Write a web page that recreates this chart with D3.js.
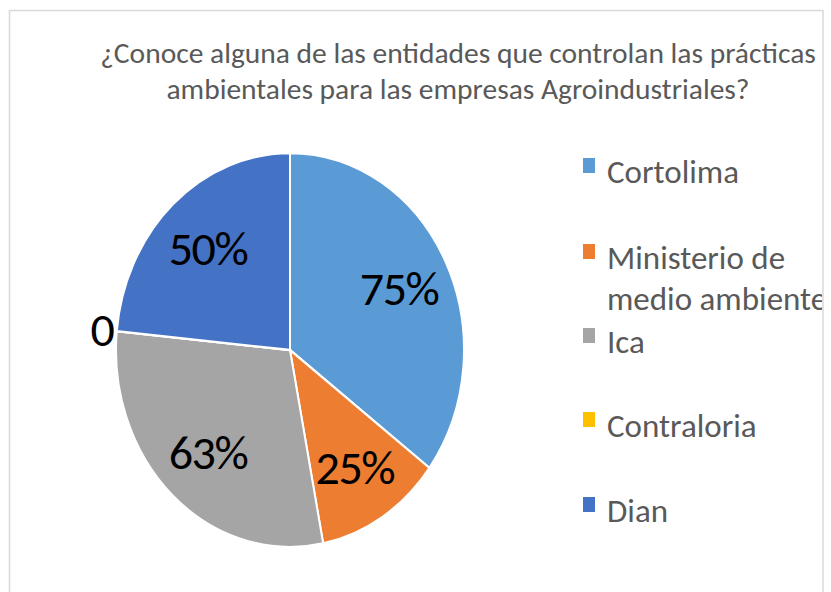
<!DOCTYPE html>
<meta charset="utf-8">
<style>
    body { margin: 0; background: #fff; }
    svg { font-family: Carlito, Calibri, "Open Sans", sans-serif; }
    .title { fill: #595959; font-size: 29.5px; }
    .legend text { fill: #595959; font-size: 33px; }
    .label { fill: #000; font-size: 48px; letter-spacing: -1.5px; }
</style>
<body>
<script src="https://d3js.org/d3.v7.min.js"></script>
<script>
    var categories = ["Cortolima", "Ministerio de medio ambiente", "Ica", "Contraloria", "Dian"];
    var values = [75, 25, 63, 0, 50];
    var labels = ["75%", "25%", "63%", "0", "50%"];
    var colors = ["#5b9bd5", "#ed7d31", "#a5a5a5", "#ffc000", "#4472c4"];
    var titleLines = ["¿Conoce alguna de las entidades que controlan las prácticas",
                      "ambientales para las empresas Agroindustriales?"];

    var width = 831, height = 592;
    var svg = d3.select("body").append("svg")
        .attr("width", width)
        .attr("height", height);

    // chart frame
    svg.append("rect")
        .attr("x", 9.5).attr("y", 10.5)
        .attr("width", 813.5).attr("height", 600)
        .attr("fill", "#fff")
        .attr("stroke", "#d9d9d9")
        .attr("stroke-width", 1.5);

    svg.append("clipPath").attr("id", "frame")
        .append("rect")
        .attr("x", 10).attr("y", 11)
        .attr("width", 812).attr("height", 600);

    svg.selectAll(".title")
        .data(titleLines)
        .enter().append("text")
        .attr("class", "title")
        .attr("x", 458)
        .attr("y", function (d, i) { return 63 + i * 36; })
        .attr("text-anchor", "middle")
        .text(function (d) { return d; });

    var cx = 290, cy = 350, r = 174, sy = 197 / 174;
    var pie = d3.pie().sort(null).value(function (d) { return d; });
    var arcs = pie(values);
    var arc = d3.arc().innerRadius(0).outerRadius(r);

    var g = svg.append("g")
        .attr("transform", "translate(" + cx + "," + cy + ") scale(1," + sy + ")");
    g.selectAll("path")
        .data(arcs)
        .enter().append("path")
        .attr("d", arc)
        .attr("fill", function (d, i) { return colors[i]; })
        .attr("stroke", "#fff")
        .attr("stroke-width", 2);

    // data labels, zero values are pushed outside
    svg.selectAll(".label")
        .data(arcs)
        .enter().append("text")
        .attr("class", "label")
        .attr("text-anchor", "middle")
        .attr("dy", "0.35em")
        .attr("transform", function (d) {
            var lr = d.value ? 122 : 189;
            var c = d3.arc().innerRadius(lr).outerRadius(lr).centroid(d);
            return "translate(" + (cx + c[0]) + "," + (cy + c[1] * sy) + ")";
        })
        .text(function (d, i) { return labels[i]; });

    // legend
    var legendY = [183, 269, 353, 437, 522];
    var leg = svg.append("g").attr("class", "legend").attr("clip-path", "url(#frame)");
    var item = leg.selectAll("g")
        .data(categories)
        .enter().append("g")
        .attr("transform", function (d, i) { return "translate(583," + legendY[i] + ")"; });
    item.append("rect")
        .attr("x", 0).attr("y", -25)
        .attr("width", 12).attr("height", 15)
        .attr("fill", function (d, i) { return colors[i]; });
    item.append("text")
        .attr("x", 24)
        .each(function (d) {
            var t = d3.select(this);
            var words = d === "Ministerio de medio ambiente" ? ["Ministerio de", "medio ambiente"] : [d];
            words.forEach(function (w, k) {
                t.append("tspan").attr("x", 24).attr("dy", k ? 41 : 0).text(w);
            });
        });
</script>
</body>
